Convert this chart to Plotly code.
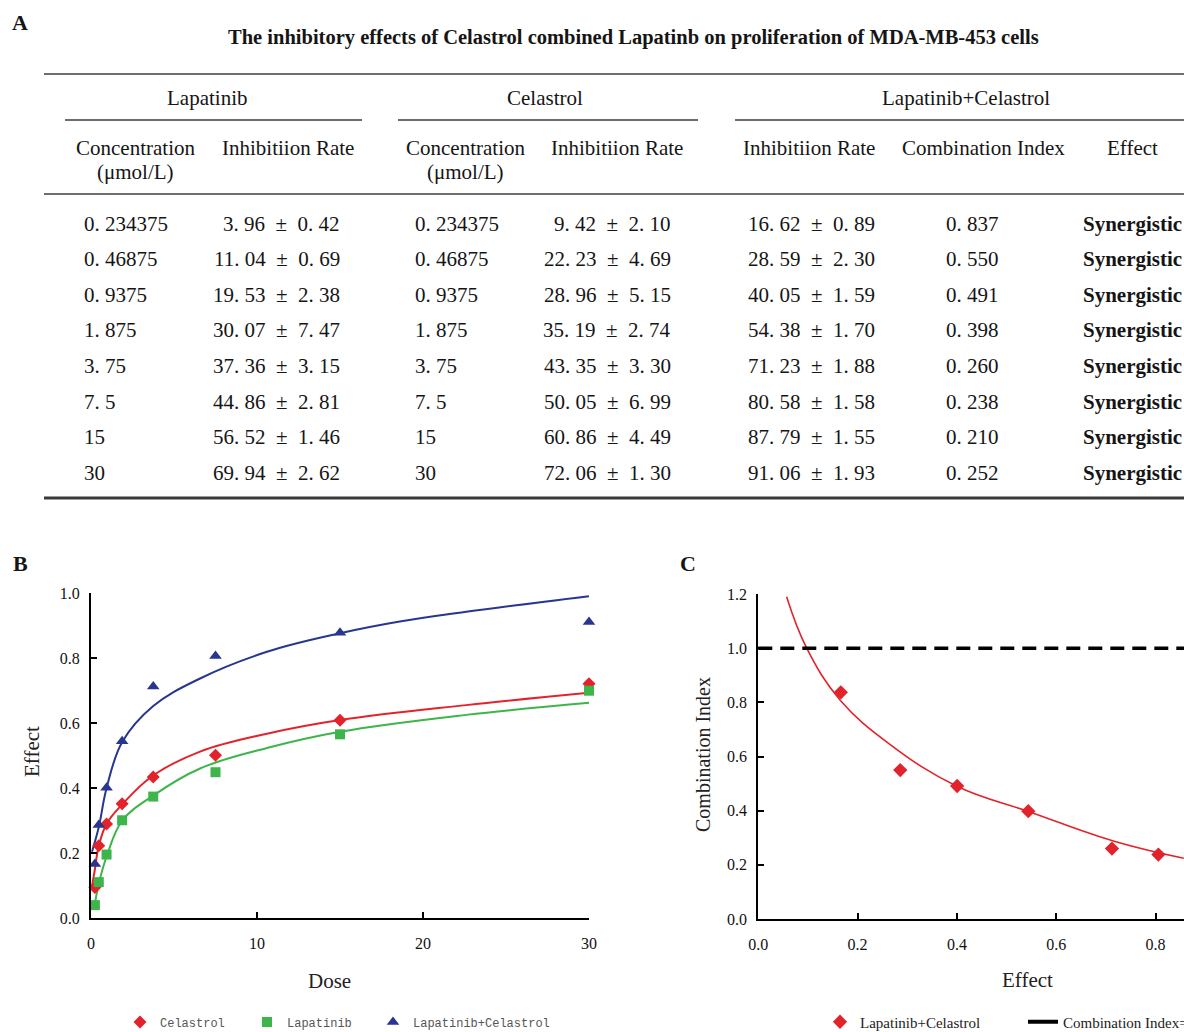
import plotly.graph_objects as go

# ---------------- Data (Table A) ----------------
conc = [0.234375, 0.46875, 0.9375, 1.875, 3.75, 7.5, 15, 30]
lap_ir = [3.96, 11.04, 19.53, 30.07, 37.36, 44.86, 56.52, 69.94]
lap_sd = [0.42, 0.69, 2.38, 7.47, 3.15, 2.81, 1.46, 2.62]
cel_ir = [9.42, 22.23, 28.96, 35.19, 43.35, 50.05, 60.86, 72.06]
cel_sd = [2.10, 4.69, 5.15, 2.74, 3.30, 6.99, 4.49, 1.30]
comb_ir = [16.62, 28.59, 40.05, 54.38, 71.23, 80.58, 87.79, 91.06]
comb_sd = [0.89, 2.30, 1.59, 1.70, 1.88, 1.58, 1.55, 1.93]
comb_ci = [0.837, 0.550, 0.491, 0.398, 0.260, 0.238, 0.210, 0.252]
effect_lbl = ["Synergistic"] * 8

# ---------------- Fitted curves (panel B) ----------------
cel_fit_dose = [0.04, 0.234, 0.47, 0.94, 1.89, 3.7, 6.57, 10.6, 15, 22.6, 30]
cel_fit_eff = [0.091, 0.15, 0.222, 0.29, 0.35, 0.437, 0.512, 0.567, 0.609, 0.655, 0.693]
lap_fit_dose = [0.17, 0.49, 0.99, 1.89, 3.7, 6.57, 10.6, 15, 22.6, 30]
lap_fit_eff = [0.025, 0.11, 0.197, 0.30, 0.375, 0.46, 0.523, 0.573, 0.625, 0.662]
comb_fit_dose = [0.06, 0.47, 0.94, 1.89, 3.75, 6.57, 10.6, 15, 18.6, 22.6, 30]
comb_fit_eff = [0.204, 0.28, 0.40, 0.542, 0.652, 0.737, 0.819, 0.876, 0.912, 0.942, 0.99]

# ---------------- Fitted CI curve (panel C) ----------------
ci_fit_fa = [0.057, 0.0975, 0.165, 0.265, 0.40, 0.544, 0.715, 0.857]
ci_fit_ci = [1.19, 1.0, 0.808, 0.645, 0.49, 0.397, 0.288, 0.224]
ci_threshold = 1.0

W, H = 1184, 1032
SERIF = "Liberation Serif, Times New Roman, serif"
MONO = "Liberation Mono, DejaVu Sans Mono, monospace"
RED, GREEN, BLUE = "#e3232b", "#3db54a", "#28368f"


def px(x):
    return x / W


def py(y):
    return 1 - y / H


annotations = []
shapes = []


def txt(x, y, s, size=21, anchor="center", bold=False, family=SERIF, color="#151515", angle=0):
    annotations.append(dict(
        x=px(x), y=py(y), xref="paper", yref="paper",
        text=f"<b>{s}</b>" if bold else s, showarrow=False,
        xanchor=anchor, yanchor="middle", textangle=angle,
        font=dict(family=family, size=size, color=color)))


def rule(x0, x1, y, width=2, color="#6e6e6e"):
    shapes.append(dict(type="line", xref="paper", yref="paper",
                       x0=px(x0), x1=px(x1), y0=py(y), y1=py(y),
                       line=dict(color=color, width=width)))


def num(v):
    return str(v).replace(".", ". ")


def pm(v, s):
    return f"{v:.2f}".replace(".", ". ") + "\u2002±\u2002" + f"{s:.2f}".replace(".", ". ")


# ---------------- Panel A: table ----------------
txt(20, 22, "A", size=22, bold=True, anchor="center")
txt(633, 38, "The inhibitory effects of Celastrol combined Lapatinb on proliferation of MDA-MB-453 cells",
    size=20.5, bold=True)
rule(44, 1184, 74)
txt(207, 98, "Lapatinib")
txt(545, 98, "Celastrol")
txt(966, 98, "Lapatinib+Celastrol")
rule(65, 362, 120)
rule(398, 698, 120)
rule(735, 1184, 120)
txt(135, 148, "Concentration")
txt(135, 172, "(μmol/L)")
txt(288, 148, "Inhibitiion Rate")
txt(465, 148, "Concentration")
txt(465, 172, "(μmol/L)")
txt(617, 148, "Inhibitiion Rate")
txt(809, 148, "Inhibitiion Rate")
txt(983, 148, "Combination Index")
txt(1132, 148, "Effect")
rule(44, 1184, 194)
for i in range(len(conc)):
    yy = 223.5 + 35.6 * i
    txt(82, yy, num(conc[i]), anchor="left")
    txt(342, yy, pm(lap_ir[i], lap_sd[i]), anchor="right")
    txt(413, yy, num(conc[i]), anchor="left")
    txt(673, yy, pm(cel_ir[i], cel_sd[i]), anchor="right")
    txt(746, yy, pm(comb_ir[i], comb_sd[i]), anchor="left")
    txt(972, yy, f"{comb_ci[i]:.3f}".replace(".", ". "), anchor="center")
    txt(1081, yy, effect_lbl[i], bold=True, anchor="left")
rule(44, 1184, 498, width=3, color="#3a3a3a")

# ---------------- Panel labels / axis titles ----------------
txt(20, 563, "B", size=22, bold=True)
txt(688, 563, "C", size=22, bold=True)
txt(32, 752, "Effect", size=21, angle=-90, color="#222")
txt(329, 981, "Dose", size=21, color="#222")
txt(703, 755, "Combination Index", size=20, angle=-90, color="#222")
txt(1027, 980, "Effect", size=21, color="#222")

fig = go.Figure()

# panel B curves
fig.add_trace(go.Scatter(x=cel_fit_dose, y=cel_fit_eff, mode="lines", line=dict(color=RED, width=2, shape="spline", smoothing=1.1),
                         showlegend=False, xaxis="x", yaxis="y", hoverinfo="skip"))
fig.add_trace(go.Scatter(x=lap_fit_dose, y=lap_fit_eff, mode="lines", line=dict(color=GREEN, width=2, shape="spline", smoothing=1.1),
                         showlegend=False, xaxis="x", yaxis="y", hoverinfo="skip"))
fig.add_trace(go.Scatter(x=comb_fit_dose, y=comb_fit_eff, mode="lines", line=dict(color=BLUE, width=2, shape="spline", smoothing=1.1),
                         showlegend=False, xaxis="x", yaxis="y", hoverinfo="skip"))

# panel B points
fig.add_trace(go.Scatter(x=conc, y=[v / 100 for v in cel_ir], mode="markers", name="Celastrol",
                         marker=dict(symbol="diamond", size=10, color=RED), cliponaxis=False,
                         xaxis="x", yaxis="y", legend="legend"))
fig.add_trace(go.Scatter(x=conc, y=[v / 100 for v in lap_ir], mode="markers", name="Lapatinib",
                         marker=dict(symbol="square", size=10, color=GREEN), cliponaxis=False,
                         xaxis="x", yaxis="y", legend="legend4"))
fig.add_trace(go.Scatter(x=conc, y=[v / 100 for v in comb_ir], mode="markers", name="Lapatinib+Celastrol",
                         marker=dict(symbol="triangle-up", size=11, color=BLUE), cliponaxis=False,
                         xaxis="x", yaxis="y", legend="legend5"))

# panel C
fig.add_trace(go.Scatter(x=ci_fit_fa, y=ci_fit_ci, mode="lines", line=dict(color=RED, width=1.6, shape="spline", smoothing=1.15),
                         showlegend=False, xaxis="x2", yaxis="y2", hoverinfo="skip"))
fig.add_trace(go.Scatter(x=[v / 100 for v in comb_ir], y=comb_ci, mode="markers", name="Lapatinib+Celastrol",
                         marker=dict(symbol="diamond", size=11, color=RED), cliponaxis=False,
                         xaxis="x2", yaxis="y2", legend="legend2"))
fig.add_trace(go.Scatter(x=[None], y=[None], mode="lines", name="Combination Index=1",
                         line=dict(color="black", width=4), xaxis="x2", yaxis="y2", legend="legend3"))
shapes.append(dict(type="line", xref="x2 domain", yref="y2", x0=0, x1=1, y0=ci_threshold, y1=ci_threshold,
                   line=dict(color="black", width=3.5, dash="14px,8px")))

axis_common = dict(showline=True, linecolor="black", linewidth=2, ticks="inside", ticklen=6, tickwidth=2,
                   tickcolor="black", showgrid=False, zeroline=False,
                   tickfont=dict(family=SERIF, size=16, color="#111"))

legB = dict(orientation="h", xanchor="left", y=py(1022), yanchor="middle", bgcolor="rgba(0,0,0,0)",
            font=dict(family=MONO, size=12, color="#555"))
legC = dict(orientation="h", xanchor="left", y=py(1022), yanchor="middle", bgcolor="rgba(0,0,0,0)",
            font=dict(family=SERIF, size=15, color="#222"))

fig.update_layout(
    width=W, height=H, margin=dict(l=0, r=0, t=0, b=0, autoexpand=False),
    paper_bgcolor="white", plot_bgcolor="white",
    xaxis=dict(domain=[px(91), px(589)], range=[0, 30], tickvals=[0, 10, 20, 30], anchor="y",
               ticklabelstandoff=10, **axis_common),
    yaxis=dict(domain=[py(918), py(593)], range=[0, 1.0], tickvals=[0, 0.2, 0.4, 0.6, 0.8, 1.0],
               tickformat=".1f", anchor="x", ticklabelstandoff=6, **axis_common),
    xaxis2=dict(domain=[px(758.3), 1.0], range=[0, (W - 758.3) / 496.5], tickvals=[0, 0.2, 0.4, 0.6, 0.8],
                tickformat=".1f", anchor="y2", ticklabelstandoff=10, **axis_common),
    yaxis2=dict(domain=[py(919), py(594)], range=[0, 1.2], tickvals=[0, 0.2, 0.4, 0.6, 0.8, 1.0, 1.2],
                tickformat=".1f", anchor="x2", ticklabelstandoff=6, **axis_common),
    legend=dict(x=px(120), **legB),
    legend4=dict(x=px(247), **legB),
    legend5=dict(x=px(373), **legB),
    legend2=dict(x=px(820), **legC),
    legend3=dict(x=px(1023), **legC),
    annotations=annotations, shapes=shapes,
)

fig.write_html("out.html", config={"displayModeBar": False},
               post_script="document.body.style.margin='0px';document.body.style.overflow='hidden';")
